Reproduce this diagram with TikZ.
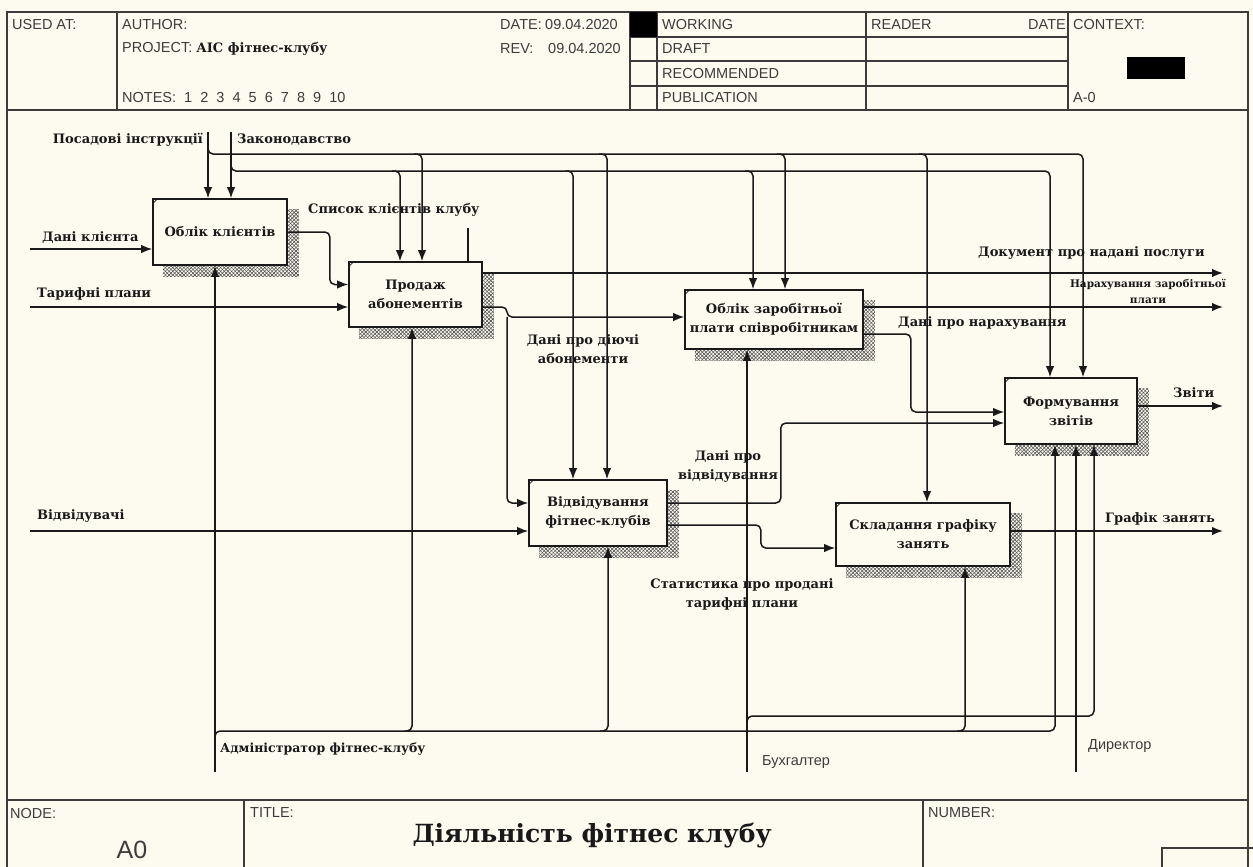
\documentclass[tikz,border=0pt]{standalone}
\usepackage{fontspec}
\setmainfont{DejaVu Serif}
\newfontfamily\armsans{Liberation Sans}
\usepackage{tikz}
\usetikzlibrary{arrows.meta, positioning, calc, patterns.meta}
\usepackage{xcolor}
\definecolor{paper}{RGB}{253,250,240}
\definecolor{ink}{RGB}{25,25,25}
\definecolor{rule}{RGB}{60,60,60}
\definecolor{hatchgray}{RGB}{85,85,85}
\pgfdeclarelayer{back}
\pgfdeclarelayer{shade}
\pgfsetlayers{back,shade,main}

\begin{document}
\begin{tikzpicture}[x=1pt, y=-1pt,
  func/.style={draw=ink, line width=1.6pt, fill=paper, align=center, text=ink, font=\bfseries\fontsize{13}{19}\selectfont, inner sep=0pt},
  arr/.style={draw=ink, line width=1.5pt, rounded corners=5pt, -{Latex[length=11pt,width=8.5pt]}},
  wire/.style={draw=ink, line width=1.5pt, rounded corners=5pt},
  lbl/.style={font=\bfseries\fontsize{13}{19}\selectfont, inner sep=0pt, align=center, text=ink},
  small/.style={font=\bfseries\fontsize{10.5}{16}\selectfont, inner sep=0pt, align=center, text=ink},
  hdr/.style={font=\armsans\fontsize{14.5}{16}\selectfont, inner sep=0pt, text=rule, anchor=west},
  frm/.style={draw=rule, line width=1.2pt}]
  \useasboundingbox (0,0) rectangle (1253,867);

  \begin{pgfonlayer}{back}
    \fill[paper] (0,0) rectangle (1253,867);
    \draw[frm] (7,12) rectangle (1248,880);
    \draw[frm] (7,110) -- (1248,110);
    \draw[frm] (7,800) -- (1248,800);
    \foreach \x in {117,630,657,866,1068} \draw[frm] (\x,12) -- (\x,110);
    \foreach \y in {37,61,86} \draw[frm] (630,\y) -- (1068,\y);
    \draw[frm] (244,800) -- (244,880);
    \draw[frm] (923,800) -- (923,880);
    \draw[frm] (1162,848) rectangle (1260,880);
  \end{pgfonlayer}

  \node[hdr] (usedat) at (12,24.5) {USED AT:};
  \node[hdr] (author) at (122,24.5) {AUTHOR:};
  \node[hdr] (project) at (122,49) {PROJECT: {\rmfamily\bfseries\fontsize{13}{16}\selectfont\color{ink}АІС фітнес-клубу}};
  \node[hdr] (notes) at (122,98) {NOTES:~~1~~2~~3~~4~~5~~6~~7~~8~~9~~10};
  \node[hdr] (date) at (500,24.5) {DATE:};
  \node[hdr] (dateval) at (545,24.5) {09.04.2020};
  \node[hdr] (rev) at (500,49) {REV:};
  \node[hdr] (revval) at (548,49) {09.04.2020};
  \fill[black] (630,12) rectangle (657,37);
  \node[hdr] (working) at (662,24.5) {WORKING};
  \node[hdr] (draft) at (662,49) {DRAFT};
  \node[hdr] (recomm) at (662,73.5) {RECOMMENDED};
  \node[hdr] (public) at (662,98) {PUBLICATION};
  \node[hdr] (reader) at (871,24.5) {READER};
  \node[hdr, anchor=east] (rdate) at (1066,24.5) {DATE};
  \node[hdr] (context) at (1073,24.5) {CONTEXT:};
  \fill[black] (1127,57) rectangle (1185,79);
  \node[hdr] (azero) at (1073,98) {A-0};

  \node[hdr] (nodelbl) at (10,813) {NODE:};
  \node[hdr, anchor=center, font=\armsans\fontsize{25}{28}\selectfont] (nodeval) at (132,850) {A0};
  \node[hdr] (titlelbl) at (250,813) {TITLE:};
  \node[lbl, font=\bfseries\fontsize{25}{28}\selectfont] (title) at (592,836) {Діяльність фітнес клубу};
  \node[hdr] (numlbl) at (928,813) {NUMBER:};

  \node[func, minimum width=134, minimum height=66] (b1) at (220,232) {Облік клієнтів};
  \node[func, minimum width=133, minimum height=65] (b2) at (415.5,294.5) {Продаж\\абонементів};
  \node[func, minimum width=178, minimum height=59] (b3) at (774,319.5) {Облік заробітньої\\плати співробітникам};
  \node[func, minimum width=132, minimum height=66] (b4) at (1071,411) {Формування\\звітів};
  \node[func, minimum width=138, minimum height=66] (b5) at (598,513) {Відвідування\\фітнес-клубів};
  \node[func, minimum width=174, minimum height=63] (b6) at (923,534.5) {Складання графіку\\занять};

  \begin{pgfonlayer}{shade}
    \foreach \b in {b1,b2,b3,b4,b5,b6}{
      \fill[pattern={Lines[angle=45,distance=2.6pt,line width=.6pt]}, pattern color=hatchgray]
        ([shift={(11,11)}]\b.north west) rectangle ([shift={(11,11)}]\b.south east);
      \fill[pattern={Lines[angle=-45,distance=2.6pt,line width=.6pt]}, pattern color=hatchgray]
        ([shift={(11,11)}]\b.north west) rectangle ([shift={(11,11)}]\b.south east);
    }
  \end{pgfonlayer}
  \foreach \b in {b1,b2,b3,b4,b5,b6}
    \draw[ink, line width=.7pt] ([yshift=-6pt]\b.north west) -- ([xshift=6pt]\b.north west);

  \coordinate (c1) at (208,132);
  \coordinate (c2) at (231,132);
  \coordinate (j1) at (208,154);
  \coordinate (j2) at (231,171);
  \draw[arr] (c1) -- (c1 |- b1.north);
  \draw[arr] (c2) -- (c2 |- b1.north);
  \draw[arr] ([yshift=8pt]j1) |- ([xshift=12pt]b4.north |- j1) -- ([xshift=12pt]b4.north);
  \draw[arr] ([yshift=8pt]j2) |- ([xshift=-21pt]b4.north |- j2) -- ([xshift=-21pt]b4.north);
  \foreach \b/\s in {b2/6.5, b5/9, b3/11, b6/4}
    \draw[arr] ([xshift=\s pt-8pt]\b.north |- j1) -| ([xshift=\s pt]\b.north);
  \foreach \b/\s in {b2/-15.5, b5/-25, b3/-21}
    \draw[arr] ([xshift=\s pt-8pt]\b.north |- j2) -| ([xshift=\s pt]\b.north);

  \coordinate (i1) at (30,249);
  \coordinate (i2) at (30,307);
  \coordinate (i3) at (30,531);
  \draw[arr] (i1) -- (i1 -| b1.west);
  \draw[arr] (i2) -- (i2 -| b2.west);
  \draw[arr] (i3) -- (i3 -| b5.west);

  \draw[arr] (b1.east) -- ++(42,0) |- ([yshift=10pt]b2.west);
  \coordinate (s1) at (468,228);
  \draw[wire] (s1) -- (s1 |- b2.north);

  \coordinate (o1) at (1223,273);
  \draw[arr] (o1 -| b2.east) -- (o1);
  \coordinate (j3) at (507,317);
  \draw[arr] ([yshift=-12.5pt]b2.east) -| (j3) -- (j3 -| b3.west);
  \draw[arr] (j3) |- ([yshift=10pt]b5.west);

  \coordinate (o2) at (1223,307);
  \draw[arr] (o2 -| b3.east) -- (o2);
  \draw[arr] ([yshift=-14.5pt]b3.east) -- ++(47,0) |- ([yshift=-1pt]b4.west);

  \coordinate (o3) at (1223,406);
  \draw[arr] (o3 -| b4.east) -- (o3);

  \draw[arr] ([yshift=10pt]b5.east) -- ++(113,0) |- ([yshift=-12pt]b4.west);
  \draw[arr] ([yshift=-12pt]b5.east) -- ++(93,0) |- ([yshift=-13.5pt]b6.west);
  \coordinate (o4) at (1223,531);
  \draw[arr] (o4 -| b6.east) -- (o4);

  \coordinate (m1) at (215,772);
  \coordinate (j4) at (215,731);
  \draw[arr] (m1) -- (m1 |- b1.south);
  \draw[arr] ([yshift=-8pt]j4) |- ([xshift=-16pt]b4.south |- j4) -- ([xshift=-16pt]b4.south);
  \foreach \b/\s in {b2/-3.5, b5/10, b6/42}
    \draw[arr] ([xshift=\s pt-8pt]\b.south |- j4) -| ([xshift=\s pt]\b.south);
  \coordinate (m2) at (747,772);
  \coordinate (j5) at (747,716);
  \draw[arr] (m2) -- (m2 |- b3.south);
  \draw[arr] ([yshift=-8pt]j5) |- ([xshift=23pt]b4.south |- j5) -- ([xshift=23pt]b4.south);
  \coordinate (m3) at (1076,772);
  \draw[arr] (m3) -- (m3 |- b4.south);

  \node[lbl, anchor=east] (posad) at (203,140) {Посадові інструкції};
  \node[lbl, anchor=west] (zakon) at (237,140) {Законодавство};
  \node[lbl, anchor=west] (danikl) at (42,238) {Дані клієнта};
  \node[lbl, anchor=west] (taryf) at (37,294) {Тарифні плани};
  \node[lbl, anchor=west] (vidv) at (37,516) {Відвідувачі};
  \node[lbl, anchor=west] (spysok) at (308,210) {Список клієнтів клубу};
  \node[lbl, anchor=east] (dokum) at (1205,253) {Документ про надані послуги};
  \node[small] (narakh) at (1148,291) {Нарахування заробітньої\\плати};
  \node[lbl, anchor=west] (danin) at (898,323) {Дані про нарахування};
  \node[lbl, anchor=west] (zvity) at (1173,393) {Звіти};
  \node[lbl] (abon) at (583,349) {Дані про діючі\\абонементи};
  \node[lbl] (vidvl) at (728,467) {Дані про\\відвідування};
  \node[lbl] (stat) at (742,594) {Статистика про продані\\тарифні плани};
  \node[lbl, anchor=west] (grafik) at (1105,519) {Графік занять};
  \node[lbl, anchor=west, font=\bfseries\fontsize{12.5}{15}\selectfont] (admin) at (220,749) {Адміністратор фітнес-клубу};
  \node[hdr] (buh) at (762,762) {Бухгалтер};
  \node[hdr] (dyr) at (1088,746) {Директор};
\end{tikzpicture}
\end{document}
